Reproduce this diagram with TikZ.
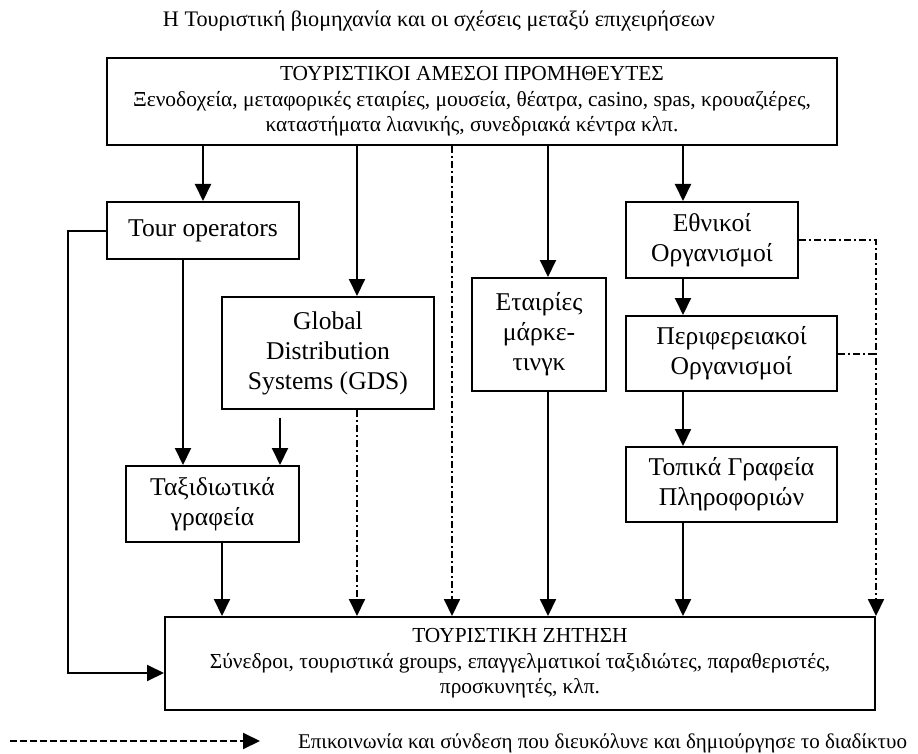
\documentclass[tikz,border=0pt]{standalone}
\usepackage{fontspec}
\setmainfont{Liberation Serif}
\usetikzlibrary{arrows.meta}

\begin{document}
\begin{tikzpicture}[x=1pt, y=-1pt, line width=2pt,
    >={Triangle[length=17pt,width=16pt]},
    box/.style={draw, align=center, inner sep=0pt, font=\fontsize{25.6}{30}\selectfont},
    widebox/.style={draw, align=center, inner sep=0pt, font=\fontsize{21.4}{25.5}\selectfont},
    dashdot/.style={dash pattern=on 7pt off 3pt on 2pt off 3pt}]

    \useasboundingbox (0,0) rectangle (918,754);

    % ==== TITLE ====
    \node[anchor=base, font=\fontsize{22.2}{26}\selectfont] (title) at (439,27)
        {Η Τουριστική βιομηχανία και οι σχέσεις μεταξύ επιχειρήσεων};

    % ==== SUPPLIERS AND DEMAND ====
    \node[widebox, minimum width=730pt, minimum height=87pt] (top) at (472,101.5)
        {ΤΟΥΡΙΣΤΙΚΟΙ ΑΜΕΣΟΙ ΠΡΟΜΗΘΕΥΤΕΣ\\
         Ξενοδοχεία, μεταφορικές εταιρίες, μουσεία, θέατρα, casino, spas, κρουαζιέρες,\\
         καταστήματα λιανικής, συνεδριακά κέντρα κλπ.};
    \node[widebox, minimum width=710pt, minimum height=93pt] (demand) at (520,663.5)
        {ΤΟΥΡΙΣΤΙΚΗ ΖΗΤΗΣΗ\\
         Σύνεδροι, τουριστικά groups, επαγγελματικοί ταξιδιώτες, παραθεριστές,\\
         προσκυνητές, κλπ.};

    % ==== INTERMEDIARIES ====
    \node[box, minimum width=192pt, minimum height=57pt] (tour) at (203,230.5) {Tour operators};
    \node[box, minimum width=212pt, minimum height=112pt] (gds) at (328,353) {Global\\Distribution\\Systems (GDS)};
    \node[box, minimum width=173pt, minimum height=76pt] (travel) at (212.5,504) {Ταξιδιωτικά\\γραφεία};
    \node[box, minimum width=134pt, minimum height=113pt] (mkt) at (539,334.5) {Εταιρίες\\μάρκε-\\τινγκ};

    % ==== ORGANISATIONS ====
    \node[box, minimum width=172pt, minimum height=76pt] (nat) at (712,240) {Εθνικοί\\Οργανισμοί};
    \node[box, minimum width=211pt, minimum height=75pt] (reg) at (731.5,353.5) {Περιφερειακοί\\Οργανισμοί};
    \node[box, minimum width=211pt, minimum height=75pt] (loc) at (731.5,484.5) {Τοπικά Γραφεία\\Πληροφοριών};

    % ==== ARROWS FROM SUPPLIERS ====
    \draw[->] (tour.north |- top.south) -- (tour.north);
    \draw[->] ([xshift=29pt]gds.north |- top.south) -- ([xshift=29pt]gds.north);
    \draw[->, dashdot] ([xshift=-68pt]demand.north |- top.south) -- ([xshift=-68pt]demand.north);
    \draw[->] ([xshift=9pt]mkt.north |- top.south) -- ([xshift=9pt]mkt.north);
    \draw[->] ([xshift=-29pt]nat.north |- top.south) -- ([xshift=-29pt]nat.north);

    % ==== LEFT SIDE ====
    \draw[->] ([xshift=-20pt]tour.south) -- ([xshift=-20pt]tour.south |- travel.north);
    \draw[->] ([xshift=-48pt,yshift=-8pt]gds.south) -- ([xshift=-48pt]gds.south |- travel.north);
    \draw[->] (tour.west) -- ++(-38,0) |- ([yshift=-9.5pt]demand.west);
    \draw[->] ([xshift=9.5pt]travel.south) -- ([xshift=9.5pt]travel.south |- demand.north);
    \draw[->, dashdot] ([xshift=29pt]gds.south) -- ([xshift=29pt]gds.south |- demand.north);
    \draw[->] ([xshift=9pt]mkt.south) -- ([xshift=9pt]mkt.south |- demand.north);

    % ==== RIGHT SIDE ====
    \draw[->] ([xshift=-29pt]nat.south) -- ([xshift=-29pt]nat.south |- reg.north);
    \draw[->] ([xshift=-48.5pt]reg.south) -- ([xshift=-48.5pt]reg.south |- loc.north);
    \draw[->] ([xshift=-48.5pt]loc.south) -- ([xshift=-48.5pt]loc.south |- demand.north);
    \draw[->, dashdot] (nat.east) -| (demand.north east);
    \draw[dashdot] (reg.east) -- (reg.east -| demand.north east);

    % ==== LEGEND ====
    \coordinate (legstart) at (10,741);
    \node[anchor=base west, inner sep=0pt, font=\fontsize{21}{25}\selectfont] (legtext) at (297,748)
        {Επικοινωνία και σύνδεση που διευκόλυνε και δημιούργησε το διαδίκτυο};
    \draw[->, dash pattern=on 7pt off 3pt] (legstart) -- ([xshift=-37pt]legtext.west |- legstart);
\end{tikzpicture}
\end{document}
